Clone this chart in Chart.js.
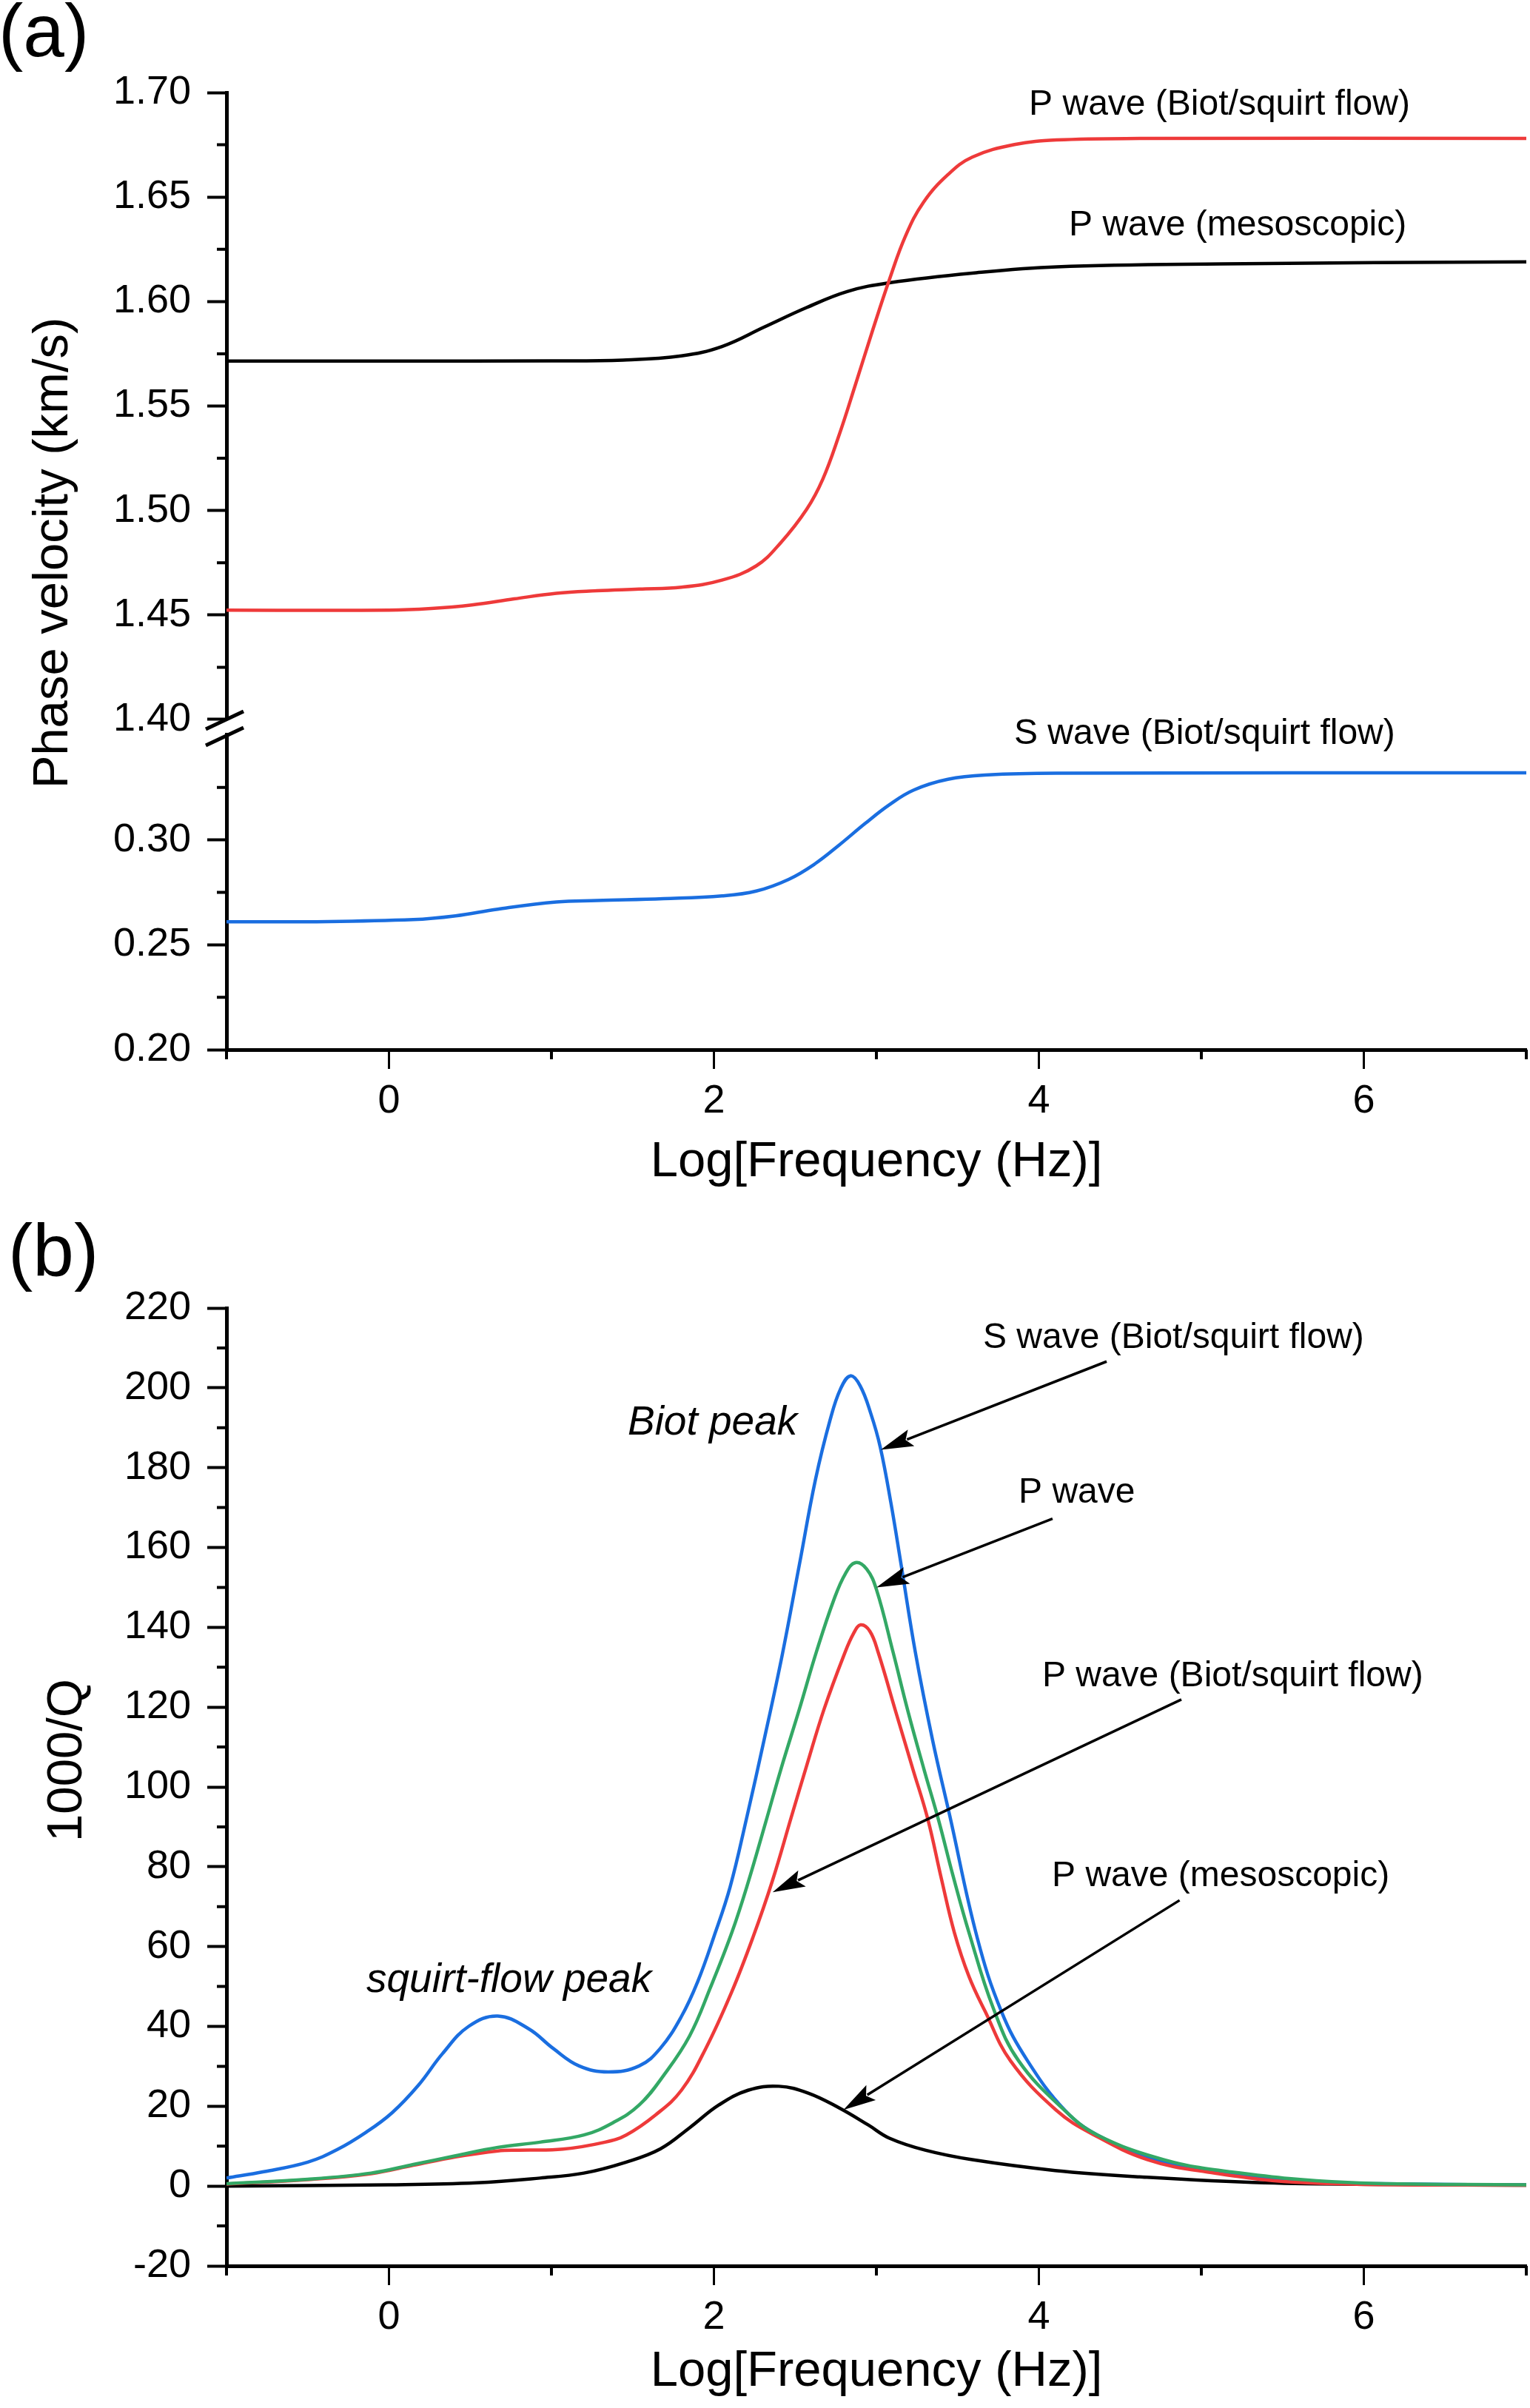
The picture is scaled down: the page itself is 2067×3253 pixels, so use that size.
<!DOCTYPE html>
<html>
<head>
<meta charset="utf-8">
<title>Phase velocity and attenuation</title>
<script src="https://cdn.jsdelivr.net/npm/chart.js@4.4.1/dist/chart.umd.min.js"></script>
<style>
  html, body { margin: 0; padding: 0; background: #fff; }
  #wrap { position: relative; width: 2067px; height: 3253px; overflow: hidden; }
  canvas { position: absolute; left: 0; }
  #velChart { top: 0; }
  #qChart { top: 1640px; }
</style>
</head>
<body>
<div id="wrap">
  <canvas id="velChart" width="2067" height="1640"></canvas>
  <canvas id="qChart" width="2067" height="1613"></canvas>
</div>
<script>
// ---- (a) phase velocity, km/s ----
const LOGF_P_MESO_V = [-1, 0, 1, 1.44, 1.8, 2.05, 2.31, 2.57, 2.82, 3.08, 3.59, 4.11, 5.13, 7];
const VEL_P_MESO    = [1.5715, 1.5715, 1.5716, 1.572, 1.574, 1.5785, 1.5878, 1.5971, 1.6048, 1.609, 1.6136, 1.6166, 1.618, 1.619];

const LOGF_P_BIOT_V = [-1, 0, 0.26, 0.51, 0.77, 1.03, 1.28, 1.54, 1.8, 2.05, 2.26, 2.41, 2.57, 2.67, 2.77, 2.87, 2.98, 3.08, 3.18, 3.29, 3.44, 3.59, 3.85, 4.11, 4.62, 7];
const VEL_P_BIOT    = [1.4523, 1.4523, 1.4531, 1.4548, 1.4577, 1.4604, 1.4616, 1.4624, 1.4633, 1.4667, 1.4735, 1.4845, 1.5005, 1.515, 1.536, 1.560, 1.587, 1.6105, 1.6315, 1.6475, 1.6607, 1.6691, 1.6751, 1.6773, 1.678, 1.678];

const LOGF_S_V = [-1, -0.5, 0.15, 0.41, 0.67, 1.03, 1.28, 1.69, 2.05, 2.26, 2.46, 2.62, 2.77, 2.93, 3.08, 3.23, 3.44, 3.69, 4.11, 7];
const VEL_S    = [0.261, 0.261, 0.262, 0.2638, 0.267, 0.2704, 0.2711, 0.272, 0.2733, 0.2756, 0.2812, 0.2885, 0.2975, 0.3078, 0.3168, 0.3238, 0.3289, 0.331, 0.3318, 0.332];

// ---- (b) attenuation, 1000/Q ----
const LOGF_S_Q = [-1, -0.77, -0.5, -0.32, -0.14, 0.02, 0.18, 0.33, 0.49, 0.67, 0.86, 1.01, 1.17, 1.35, 1.54, 1.67, 1.8, 1.9, 2.0, 2.1, 2.2, 2.31, 2.42, 2.526, 2.625, 2.716, 2.78, 2.84, 2.9, 2.966, 3.024, 3.09, 3.152, 3.24, 3.346, 3.452, 3.62, 3.77, 3.93, 4.16, 4.36, 4.72, 5.13, 5.65, 6.3, 7];
const Q_S      = [2.0, 3.6, 6.0, 9.1, 13.5, 18.4, 25.2, 33.2, 40.0, 42.6, 39.4, 34.5, 30.1, 28.6, 30.1, 34.5, 42.5, 51.2, 62.5, 75.0, 92.0, 112.0, 133.0, 155.7, 177.0, 192.1, 199.8, 203.0, 200.5, 193.5, 185.1, 171.0, 155.7, 133.7, 111.7, 92.7, 62.3, 43.7, 31.4, 19.0, 12.8, 6.6, 3.56, 1.1, 0.5, 0.3];

const LOGF_P_Q = [-1, -0.5, -0.11, 0.15, 0.41, 0.67, 0.93, 1.2, 1.38, 1.54, 1.69, 1.85, 1.98, 2.11, 2.21, 2.321, 2.412, 2.526, 2.632, 2.739, 2.81, 2.871, 2.94, 3.0, 3.103, 3.194, 3.293, 3.384, 3.47, 3.57, 3.72, 3.875, 4.157, 4.36, 4.77, 5.18, 5.9, 7];
const Q_P      = [0.6, 1.7, 3.25, 5.4, 7.6, 9.7, 11.0, 12.8, 15.9, 20.3, 27.7, 37.6, 49.9, 63.5, 76.0, 91.5, 104.4, 119.5, 134.0, 147.0, 153.5, 156.2, 154.6, 149.5, 133.7, 119.0, 104.4, 91.5, 78.0, 63.5, 44.5, 31.4, 19.0, 12.8, 6.6, 3.56, 0.9, 0.3];

const LOGF_P_BIOT_Q = [-1, -0.5, -0.11, 0.15, 0.41, 0.67, 0.8, 1.07, 1.33, 1.46, 1.64, 1.8, 1.95, 2.11, 2.24, 2.36, 2.478, 2.572, 2.678, 2.8, 2.86, 2.903, 2.96, 3.011, 3.118, 3.225, 3.316, 3.4, 3.48, 3.57, 3.67, 3.825, 4.107, 4.34, 4.67, 5.03, 5.65, 7];
const Q_P_BIOT      = [0.5, 1.6, 3.1, 5.2, 7.3, 8.8, 9.0, 9.25, 11.0, 12.8, 17.8, 24.0, 34.5, 48.7, 62.3, 76.5, 92.7, 105.5, 119.5, 133.0, 138.5, 140.6, 139.0, 133.7, 119.0, 104.4, 92.0, 77.0, 63.5, 52.5, 43.7, 31.4, 19.0, 12.8, 6.6, 3.56, 0.8, 0.2];

const LOGF_P_MESO_Q = [-1, 0, 0.54, 0.93, 1.2, 1.46, 1.67, 1.85, 2.03, 2.21, 2.4, 2.58, 2.77, 2.95, 3.08, 3.3, 3.59, 4.1, 4.62, 5.39, 6.2, 7];
const Q_P_MESO      = [0, 0.3, 0.8, 2.0, 3.25, 6.0, 9.3, 14.6, 20.3, 24.0, 25.0, 23.3, 19.6, 15.3, 12.0, 9.0, 6.6, 3.9, 2.3, 0.8, 0.4, 0.2];

// ---- ticks ----
const X_TICKS = [0, 2, 4, 6];
const X_MINOR = [-1, 1, 3, 5, 7];
const VEL_HI_TICKS = [1.40, 1.45, 1.50, 1.55, 1.60, 1.65, 1.70];
const VEL_HI_MINOR = [1.425, 1.475, 1.525, 1.575, 1.625, 1.675];
const VEL_LO_TICKS = [0.20, 0.25, 0.30];
const VEL_LO_MINOR = [0.225, 0.275, 0.325];
const Q_TICKS = [-20, 0, 20, 40, 60, 80, 100, 120, 140, 160, 180, 200, 220];
const Q_MINOR = [-10, 10, 30, 50, 70, 90, 110, 130, 150, 170, 190, 210];

const FONT = "'Liberation Sans', Arial, Helvetica, sans-serif";
const RED = '#ee3a3a', BLUE = '#1a6ee0', GREEN = '#33a865', BLACK = '#000000';

const pts = (xs, ys) => xs.map((x, i) => ({x, y: ys[i]}));
const setTicks = vals => s => { s.ticks = vals.map(v => ({value: v})); };

function line(label, xs, ys, color, axis) {
  return {
    label, data: pts(xs, ys), yAxisID: axis,
    borderColor: color, borderWidth: 4.5, pointRadius: 0,
    tension: 0.4, fill: false
  };
}

function xAxis(height, titlePad) {
  return {
    type: 'linear', position: 'bottom', min: -1, max: 7,
    afterBuildTicks: setTicks(X_TICKS),
    afterFit: s => { s.height = height; },
    ticks: { font: {family: FONT, size: 54}, color: '#000', padding: 12 },
    grid: { drawOnChartArea: false, tickLength: 26, tickWidth: 3, tickColor: '#000' },
    border: { color: '#000', width: 5 },
    title: { display: true, text: 'Log[Frequency (Hz)]', color: '#000',
             font: {family: FONT, size: 67}, padding: {top: 0, bottom: titlePad} }
  };
}

function yAxis(min, max, ticks, fmt, extra) {
  return Object.assign({
    type: 'linear', position: 'left', min, max,
    afterBuildTicks: setTicks(ticks),
    afterFit: s => { s.width = 306; },
    ticks: { font: {family: FONT, size: 54}, color: '#000', padding: 22, callback: fmt },
    grid: { drawOnChartArea: false, tickLength: 26, tickWidth: 4, tickColor: '#000' },
    border: { color: '#000', width: 5 }
  }, extra);
}

const minorTicks = {
  id: 'minorTicks',
  afterDraw(chart, args, opts) {
    const {ctx} = chart;
    ctx.save();
    ctx.strokeStyle = '#000';
    ctx.lineWidth = 4;
    ctx.beginPath();
    for (const id in opts.values) {
      const s = chart.scales[id];
      for (const v of opts.values[id]) {
        const p = s.getPixelForValue(v);
        if (s.isHorizontal()) { ctx.moveTo(p, s.top); ctx.lineTo(p, s.top + 13); }
        else { ctx.moveTo(s.right, p); ctx.lineTo(s.right - 13, p); }
      }
    }
    ctx.stroke();
    ctx.restore();
  }
};

const notes = {
  id: 'notes',
  afterDraw(chart, args, opts) {
    const {ctx} = chart;
    const xs = chart.scales.x;
    ctx.save();
    ctx.fillStyle = '#000';
    ctx.strokeStyle = '#000';
    for (const t of opts.texts || []) {
      const ys = chart.scales[t.axis];
      ctx.font = (t.italic ? 'italic ' : '') + t.size + 'px ' + FONT;
      ctx.textAlign = 'left';
      ctx.textBaseline = 'alphabetic';
      ctx.fillText(t.text, xs.getPixelForValue(t.at[0]), ys.getPixelForValue(t.at[1]));
    }
    for (const a of opts.arrows || []) {
      const ys = chart.scales[a.axis];
      const x0 = xs.getPixelForValue(a.from[0]), y0 = ys.getPixelForValue(a.from[1]);
      const x1 = xs.getPixelForValue(a.to[0]), y1 = ys.getPixelForValue(a.to[1]);
      const ang = Math.atan2(y1 - y0, x1 - x0);
      const hl = 44, hw = 12;
      const bx = x1 - hl * Math.cos(ang), by = y1 - hl * Math.sin(ang);
      ctx.lineWidth = 3.5;
      ctx.beginPath(); ctx.moveTo(x0, y0); ctx.lineTo(bx + 6 * Math.cos(ang), by + 6 * Math.sin(ang)); ctx.stroke();
      ctx.beginPath();
      ctx.moveTo(x1, y1);
      ctx.lineTo(bx + hw * Math.sin(ang), by - hw * Math.cos(ang));
      ctx.lineTo(bx + 8 * Math.cos(ang), by + 8 * Math.sin(ang));
      ctx.lineTo(bx - hw * Math.sin(ang), by + hw * Math.cos(ang));
      ctx.closePath();
      ctx.fill();
    }
    // panel letter and y title, placed in canvas pixels
    for (const f of opts.frame || []) {
      ctx.save();
      ctx.translate(f.x, f.y);
      ctx.rotate(f.rotate || 0);
      ctx.font = f.size + 'px ' + FONT;
      ctx.textAlign = f.align || 'left';
      ctx.textBaseline = 'alphabetic';
      ctx.fillText(f.text, 0, 0);
      ctx.restore();
    }
    ctx.restore();
  }
};

const axisBreak = {
  id: 'axisBreak',
  afterDraw(chart) {
    const {ctx} = chart;
    const hi = chart.scales.yHi, lo = chart.scales.yLo;
    const x = hi.right - 2;
    ctx.save();
    ctx.strokeStyle = '#000';
    ctx.lineWidth = 5;
    ctx.beginPath();
    for (const y of [hi.bottom + 1, lo.top + 2]) {
      ctx.moveTo(x - 26, y + 12);
      ctx.lineTo(x + 25, y - 12);
    }
    ctx.stroke();
    ctx.restore();
  }
};

const common = {
  responsive: false, animation: false, devicePixelRatio: 1, events: [],
  plugins: { legend: {display: false}, tooltip: {enabled: false} }
};

new Chart(document.getElementById('velChart'), {
  type: 'line',
  data: {
    datasets: [
      line('P wave (Biot/squirt flow)', LOGF_P_BIOT_V, VEL_P_BIOT, RED, 'yHi'),
      line('P wave (mesoscopic)', LOGF_P_MESO_V, VEL_P_MESO, BLACK, 'yHi'),
      line('S wave (Biot/squirt flow)', LOGF_S_V, VEL_S, BLUE, 'yLo')
    ]
  },
  options: Object.assign({}, common, {
    layout: { padding: {top: 125, right: 5, left: 0, bottom: 0} },
    scales: {
      x: xAxis(222, 29),
      // stacked left axes are laid out bottom-up: lower segment first
      yLo: yAxis(0.20, 0.35, VEL_LO_TICKS, v => v.toFixed(2), {stack: 'vel', stackWeight: 425}),
      yGap: { type: 'linear', position: 'left', stack: 'vel', stackWeight: 21, min: 0, max: 1,
              afterFit: s => { s.width = 306; },
              ticks: {display: false}, grid: {display: false}, border: {display: false} },
      yHi: yAxis(1.40, 1.70, VEL_HI_TICKS, v => v.toFixed(2), {stack: 'vel', stackWeight: 847})
    },
    plugins: Object.assign({}, common.plugins, {
      minorTicks: { values: { x: X_MINOR, yHi: VEL_HI_MINOR, yLo: VEL_LO_MINOR } },
      notes: {
        texts: [
          {text: 'P wave (Biot/squirt flow)', at: [3.939, 1.6894], axis: 'yHi', size: 48},
          {text: 'P wave (mesoscopic)', at: [4.185, 1.6317], axis: 'yHi', size: 48},
          {text: 'S wave (Biot/squirt flow)', at: [3.847, 0.3459], axis: 'yLo', size: 48}
        ],
        frame: [
          {text: '(a)', x: -2, y: 76, size: 100},
          {text: 'Phase velocity (km/s)', x: 91, y: 747, size: 67, rotate: -Math.PI / 2, align: 'center'}
        ]
      }
    })
  }),
  plugins: [minorTicks, notes, axisBreak]
});

new Chart(document.getElementById('qChart'), {
  type: 'line',
  data: {
    datasets: [
      line('P wave', LOGF_P_Q, Q_P, GREEN, 'y'),
      line('P wave (Biot/squirt flow)', LOGF_P_BIOT_Q, Q_P_BIOT, RED, 'y'),
      line('S wave (Biot/squirt flow)', LOGF_S_Q, Q_S, BLUE, 'y'),
      line('P wave (mesoscopic)', LOGF_P_MESO_Q, Q_P_MESO, BLACK, 'y')
    ]
  },
  options: Object.assign({}, common, {
    layout: { padding: {top: 127, right: 5, left: 0, bottom: 0} },
    scales: {
      x: xAxis(192, 8),
      y: yAxis(-20, 220, Q_TICKS, v => String(v))
    },
    plugins: Object.assign({}, common.plugins, {
      minorTicks: { values: { x: X_MINOR, y: Q_MINOR } },
      notes: {
        texts: [
          {text: 'S wave (Biot/squirt flow)', at: [3.656, 209.9], axis: 'y', size: 48},
          {text: 'P wave', at: [3.875, 171.3], axis: 'y', size: 48},
          {text: 'P wave (Biot/squirt flow)', at: [4.02, 125.3], axis: 'y', size: 48},
          {text: 'P wave (mesoscopic)', at: [4.08, 75.2], axis: 'y', size: 48},
          {text: 'Biot peak', at: [1.469, 188.3], axis: 'y', size: 55, italic: true},
          {text: 'squirt-flow peak', at: [-0.139, 48.7], axis: 'y', size: 55, italic: true}
        ],
        arrows: [
          {from: [4.417, 206.6], to: [3.027, 184.5], axis: 'y'},
          {from: [4.084, 167.2], to: [3.0, 150.0], axis: 'y'},
          {from: [4.877, 121.9], to: [2.361, 73.6], axis: 'y'},
          {from: [4.866, 71.6], to: [2.797, 19.1], axis: 'y'}
        ],
        frame: [
          {text: '(b)', x: 11, y: 84, size: 100},
          {text: '1000/Q', x: 110, y: 738, size: 67, rotate: -Math.PI / 2, align: 'center'}
        ]
      }
    })
  }),
  plugins: [minorTicks, notes]
});
</script>
</body>
</html>
